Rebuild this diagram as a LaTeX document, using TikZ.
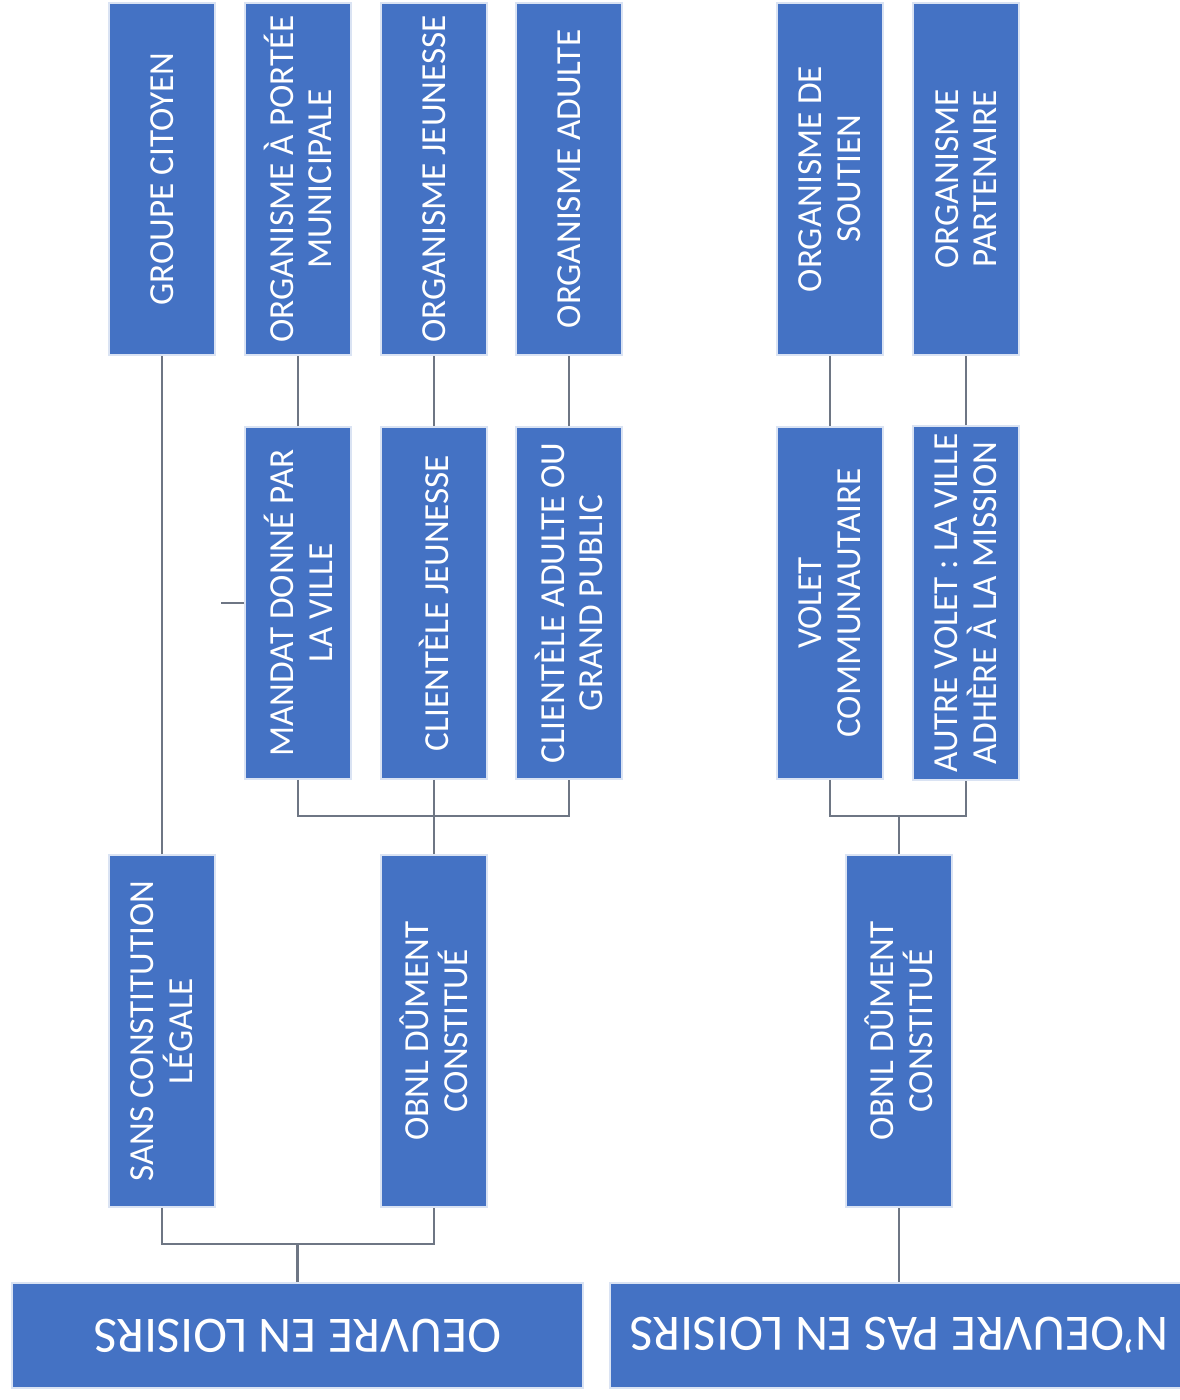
\documentclass[tikz,border=0pt]{standalone}
\usepackage{fontspec}
\setmainfont{Carlito}
\definecolor{boxblue}{HTML}{4472C4}
\definecolor{linkgray}{HTML}{6E7684}
\tikzset{
	box/.style={draw=white!80!boxblue, line width=.5pt, fill=boxblue, text=white, rotate=90,
		minimum width=3.52cm, minimum height=1.06cm, inner sep=2pt, align=center,
		font=\fontsize{10}{11}\selectfont},
	rootbox/.style={draw=white!80!boxblue, line width=.5pt, fill=boxblue, text=white, rotate=180,
		minimum height=1.05cm, inner sep=2pt, font=\fontsize{14.5}{16}\selectfont},
	link/.style={draw=linkgray, line width=.7pt}
}
\begin{document}
\begin{tikzpicture}[x=.01cm,y=-.01cm]
		%organigramme
		\fill [white] (0,0) rectangle (1180,1400);
		\useasboundingbox (0,0) rectangle (1180,1400);
		\node[rootbox, minimum width=5.71cm] (root1) at (297.5,1335.5) {OEUVRE EN LOISIRS};
		\node[rootbox, minimum width=5.78cm] (root2) at (899,1335.5) {N'OEUVRE PAS EN LOISIRS};
		\node[box] (sans) at (162,1031) {SANS CONSTITUTION\\LÉGALE};
		\node[box] (obnl) at (434,1031) {OBNL DÛMENT\\CONSTITUÉ};
		\node[box] (obnl2) at (899,1031) {OBNL DÛMENT\\CONSTITUÉ};
		\node[box] (mandat) at (298,603) {MANDAT DONNÉ PAR\\LA VILLE};
		\node[box] (cjeun) at (434,603) {CLIENTÈLE JEUNESSE};
		\node[box] (cadulte) at (569,603) {CLIENTÈLE ADULTE OU\\GRAND PUBLIC};
		\node[box] (volet) at (830,603) {VOLET\\COMMUNAUTAIRE};
		\node[box] (autre) at (966,603) {AUTRE VOLET : LA VILLE\\ADHÈRE À LA MISSION};
		\node[box] (groupe) at (162,179) {GROUPE CITOYEN};
		\node[box] (oportee) at (298,179) {ORGANISME À PORTÉE\\MUNICIPALE};
		\node[box] (ojeun) at (434,179) {ORGANISME JEUNESSE};
		\node[box] (oadulte) at (569,179) {ORGANISME ADULTE};
		\node[box] (osoutien) at (830,179) {ORGANISME DE\\SOUTIEN};
		\node[box] (opart) at (966,179) {ORGANISME\\PARTENAIRE};
		% rotated boxes: west = bottom, east = top; root boxes: south = top
		\draw [link] (root1.south) -- ++(0,-38) coordinate (j1);
		\draw [link] (sans.west) |- (j1) -| (obnl.west);
		\draw [link] (obnl.east) -- ++(0,-38) coordinate (j2);
		\draw [link] (mandat.west) |- (j2) -| (cadulte.west);
		\draw [link] (cjeun.west) -- (j2);
		\draw [link] (root2.south) -- (obnl2.west);
		\draw [link] (obnl2.east) -- ++(0,-38) coordinate (j3);
		\draw [link] (volet.west) |- (j3) -| (autre.west);
		\draw [link] (sans.east) -- (groupe.west);
		\draw [link] (mandat.east) -- (oportee.west);
		\draw [link] (cjeun.east) -- (ojeun.west);
		\draw [link] (cadulte.east) -- (oadulte.west);
		\draw [link] (volet.east) -- (osoutien.west);
		\draw [link] (autre.east) -- (opart.west);
		\draw [link] (mandat.north) -- ++(-23,0);
\end{tikzpicture}
\end{document}
